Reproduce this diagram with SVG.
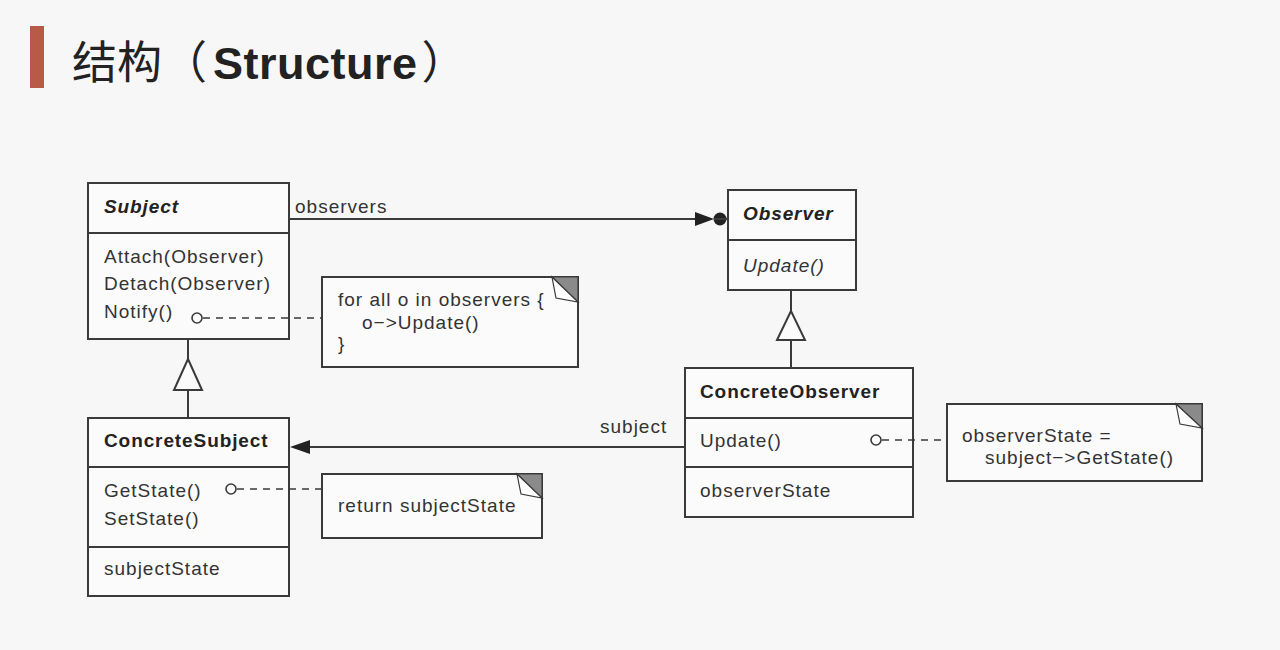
<svg xmlns="http://www.w3.org/2000/svg" width="1280" height="650" viewBox="0 0 1280 650">
<style>
.box{fill:#fbfbfb;stroke:#3a3a3a;stroke-width:2}
.ln{stroke:#3a3a3a;stroke-width:2;fill:none}
.dash{stroke:#3a3a3a;stroke-width:1.6;fill:none;stroke-dasharray:7 6}
.t{font-family:"Liberation Sans",Arial,sans-serif;font-size:19px;letter-spacing:1px;fill:#333}
.b{font-weight:bold;fill:#222;letter-spacing:0.9px}
.i{font-style:italic}
.fold{fill:#8a8a8a;stroke:#3a3a3a;stroke-width:1.2}
.foldw{fill:#fff;stroke:#3a3a3a;stroke-width:1.2}
.circ{fill:#fbfbfb;stroke:#3a3a3a;stroke-width:1.6}
</style>
<rect width="1280" height="650" fill="#f7f7f7"/>
<g id="title">
<rect x="30" y="26" width="14" height="62" fill="#b85a48"/>
<text x="72" y="79" font-family="'Liberation Sans','Noto Sans CJK SC',sans-serif" font-size="45" fill="#222">结构（<tspan font-weight="bold" dx="6" letter-spacing="0.5">Structure</tspan><tspan dx="4">）</tspan></text>
</g>
<g id="subject">
<rect class="box" x="88" y="183" width="201" height="156"/>
<line class="ln" x1="88" y1="233" x2="289" y2="233"/>
<text class="t b i" x="104" y="213">Subject</text>
<text class="t" x="104" y="263">Attach(Observer)</text>
<text class="t" x="104" y="290">Detach(Observer)</text>
<text class="t" x="104" y="318">Notify()</text>
</g>
<g id="observer">
<rect class="box" x="728" y="190" width="128" height="100"/>
<line class="ln" x1="728" y1="240" x2="856" y2="240"/>
<text class="t b i" x="743" y="220">Observer</text>
<text class="t i" x="743" y="272">Update()</text>
</g>
<g id="concreteSubject">
<rect class="box" x="88" y="418" width="201" height="178"/>
<line class="ln" x1="88" y1="467" x2="289" y2="467"/>
<line class="ln" x1="88" y1="547" x2="289" y2="547"/>
<text class="t b" x="104" y="447">ConcreteSubject</text>
<text class="t" x="104" y="497">GetState()</text>
<text class="t" x="104" y="525">SetState()</text>
<text class="t" x="104" y="575">subjectState</text>
</g>
<g id="concreteObserver">
<rect class="box" x="685" y="368" width="228" height="149"/>
<line class="ln" x1="685" y1="418" x2="913" y2="418"/>
<line class="ln" x1="685" y1="467" x2="913" y2="467"/>
<text class="t b" x="700" y="398">ConcreteObserver</text>
<text class="t" x="700" y="447">Update()</text>
<text class="t" x="700" y="497">observerState</text>
</g>
<g id="noteNotify">
<rect class="box" x="322" y="277" width="256" height="90"/>
<polygon class="fold" points="552,277 578,277 578,302"/>
<polygon class="foldw" points="552,277 578,302 556,298"/>
<text class="t" x="338" y="306">for all o in observers {</text>
<text class="t" x="362" y="329">o−&gt;Update()</text>
<text class="t" x="338" y="350">}</text>
</g>
<g id="noteGetState">
<rect class="box" x="322" y="474" width="220" height="64"/>
<polygon class="fold" points="517,474 542,474 542,498"/>
<polygon class="foldw" points="517,474 542,498 521,494"/>
<text class="t" x="338" y="512">return subjectState</text>
</g>
<g id="noteUpdate">
<rect class="box" x="947" y="404" width="255" height="77"/>
<polygon class="fold" points="1176,404 1202,404 1202,428"/>
<polygon class="foldw" points="1176,404 1202,428 1180,424"/>
<text class="t" x="962" y="442">observerState =</text>
<text class="t" x="985" y="464">subject−&gt;GetState()</text>
</g>
<g id="connectors">
<line class="ln" x1="289" y1="219" x2="700" y2="219"/>
<polygon points="695,212 714,219 695,226" fill="#222"/>
<circle cx="720" cy="219" r="6.5" fill="#222"/>
<line class="ln" x1="714" y1="219" x2="728" y2="219"/>
<text class="t" x="295" y="213">observers</text>
<line class="ln" x1="791" y1="290" x2="791" y2="311"/>
<polygon points="791,311 777,340 805,340" fill="#fbfbfb" stroke="#3a3a3a" stroke-width="2"/>
<line class="ln" x1="791" y1="340" x2="791" y2="368"/>
<line class="ln" x1="188" y1="339" x2="188" y2="359"/>
<polygon points="188,359 174,390 202,390" fill="#fbfbfb" stroke="#3a3a3a" stroke-width="2"/>
<line class="ln" x1="188" y1="390" x2="188" y2="418"/>
<line class="ln" x1="308" y1="447" x2="685" y2="447"/>
<polygon points="290,447 310,440 310,454" fill="#222"/>
<text class="t" x="600" y="433">subject</text>
<circle class="circ" cx="197" cy="318" r="5"/>
<line class="dash" x1="203" y1="318" x2="322" y2="318"/>
<circle class="circ" cx="231" cy="489" r="5"/>
<line class="dash" x1="237" y1="489" x2="322" y2="489"/>
<circle class="circ" cx="876" cy="440" r="5"/>
<line class="dash" x1="882" y1="440" x2="947" y2="440"/>
</g>
</svg>
